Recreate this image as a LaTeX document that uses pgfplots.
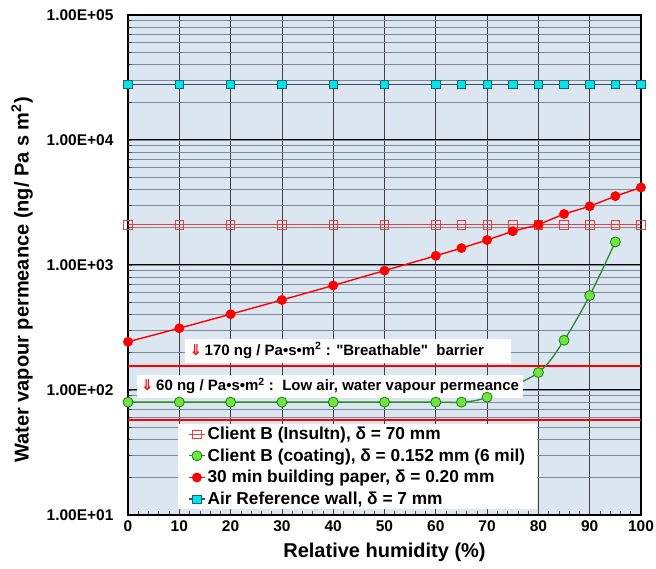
\documentclass[border=0pt]{standalone}
\usepackage{fontspec}
\setmainfont{Liberation Sans}
\newfontfamily\dejavu{DejaVu Sans}
\usepackage{pgfplots}
\pgfplotsset{compat=1.18}
\definecolor{bgblue}{RGB}{220,230,241}
\definecolor{mingrid}{RGB}{125,138,152}
\definecolor{aircyan}{RGB}{0,228,236}
\definecolor{airedge}{RGB}{30,100,115}
\definecolor{airline}{RGB}{50,85,100}
\definecolor{grfill}{RGB}{110,230,60}
\definecolor{gredge}{RGB}{30,120,30}
\definecolor{grline}{RGB}{40,140,40}
\definecolor{insred}{RGB}{235,60,60}

\begin{document}
\begin{tikzpicture}
\begin{axis}[
  name=ax, at={(0,0)}, anchor=south west,
  scale only axis, width=513pt, height=500pt,
  ymode=log, xmin=0, xmax=100, ymin=10, ymax=100000,
  axis background/.style={fill=bgblue},
  xtick={0,10,...,100}, minor x tick num=4,
  ytick={10,100,1000,10000,100000},
  yticklabels={1.00E+01,1.00E+02,1.00E+03,1.00E+04,1.00E+05},
  xmajorgrids, ymajorgrids, yminorgrids,
  major x grid style={black!75, line width=0.7pt},
  major y grid style={black, line width=1pt},
  minor y grid style={mingrid, line width=0.8pt},
  tick align=inside, xtick pos=bottom, ytick pos=left,
  major tick length=0pt, minor tick length=4pt,
  minor tick style={black!70, line width=0.6pt},
  axis line style={black, line width=1.6pt},
  tick label style={font=\bfseries\fontsize{15.5}{15.5}\selectfont},
  yticklabel style={xshift=-11pt},
  xticklabel style={yshift=-2pt},
  /pgf/number format/assume math mode=true,
  xlabel={Relative humidity (\%)},
  ylabel={Water vapour permeance (ng/ Pa s m\textsuperscript{2})},
  every axis x label/.style={at={(axis description cs:0.5,-0.074)}, anchor=center, font=\bfseries\fontsize{20}{22}\selectfont},
  every axis y label/.style={at={(axis description cs:-0.2066,0.47)}, rotate=90, anchor=center, font=\bfseries\fontsize{20}{22}\selectfont},
  legend style={at={(axis description cs:0.0975,0.182)}, anchor=north west,
    draw=none, fill=white, inner xsep=10pt, inner ysep=1pt,
    font=\bfseries\fontsize{17.3}{19}\selectfont, row sep=3.6pt,
    /tikz/every odd column/.style={}},
  legend cell align=left,
  legend image code/.code={\draw[mark repeat=2,mark phase=2] plot coordinates {(0pt,0pt) (8pt,0pt) (16pt,0pt)};},
]
% reference levels
\addplot[red, line width=2.4pt, forget plot] coordinates {(0,155.6) (100,155.6)};
\addplot[red, line width=2.4pt, forget plot] coordinates {(0,57.5) (100,57.5)};

% Client B (Insultn)
\addplot[insred, line width=0.9pt, mark=square, mark size=4.2pt, mark options={line width=0.8pt, insred}]
  table {
x y
0 2100
10 2100
20 2100
30 2100
40 2100
50 2100
60 2100
65 2100
70 2100
75 2100
80 2100
85 2100
90 2100
95 2100
100 2100
};
\addlegendentry{Client B (Insultn), δ = 70 mm}

% Client B (coating)
\addplot[grline, line width=1.3pt, smooth, mark=*, mark size=5pt, mark options={fill=grfill, draw=gredge, line width=0.8pt}]
  table {
x y
0 80
10 80
20 80
30 80
40 80
50 80
60 80
65 80
70 87.5
80 138
85 250
90 570
95 1530
};
\addlegendentry{Client B (coating), δ = 0.152 mm (6 mil)\hspace{4pt}}

% 30 min building paper
\addplot[red, line width=1.4pt, mark=*, mark size=4.2pt, mark options={fill=red, draw=red}]
  table {
x y
0 243
10 312
20 404
30 525
40 686
50 902
60 1185
65 1365
70 1585
75 1862
80 2100
85 2560
90 2950
95 3555
100 4170
};
\addlegendentry{30 min building paper, δ = 0.20 mm}

% Air reference wall
\addplot[airline, line width=1.4pt, mark=square*, mark size=4.2pt, mark options={fill=aircyan, draw=airedge, line width=0.8pt}]
  table {
x y
0 27800
10 27800
20 27800
30 27800
40 27800
50 27800
60 27800
65 27800
70 27800
75 27800
80 27800
85 27800
90 27800
95 27800
100 27800
};
\addlegendentry{Air Reference wall, δ = 7 mm}

\node[fill=white, anchor=west, inner xsep=5pt, inner ysep=3pt, font=\bfseries\fontsize{15}{15}\selectfont]
  at (axis cs:11,205) {{\color{red}\dejavu ⇓}\,170 ng / Pa•s•m\textsuperscript{2} : \textquotedbl Breathable\textquotedbl\ \ barrier\hspace{22pt}\strut};
\node[fill=white, anchor=west, inner xsep=4pt, inner ysep=3pt, font=\bfseries\fontsize{15}{15}\selectfont]
  at (axis cs:1.75,106) {{\color{red}\dejavu ⇓}\,60 ng / Pa•s•m\textsuperscript{2} :\ \ Low air, water vapour permeance\strut};
\end{axis}
\pgfresetboundingbox
\path (-128pt,-54pt) rectangle (528pt,515pt);
\end{tikzpicture}
\end{document}
